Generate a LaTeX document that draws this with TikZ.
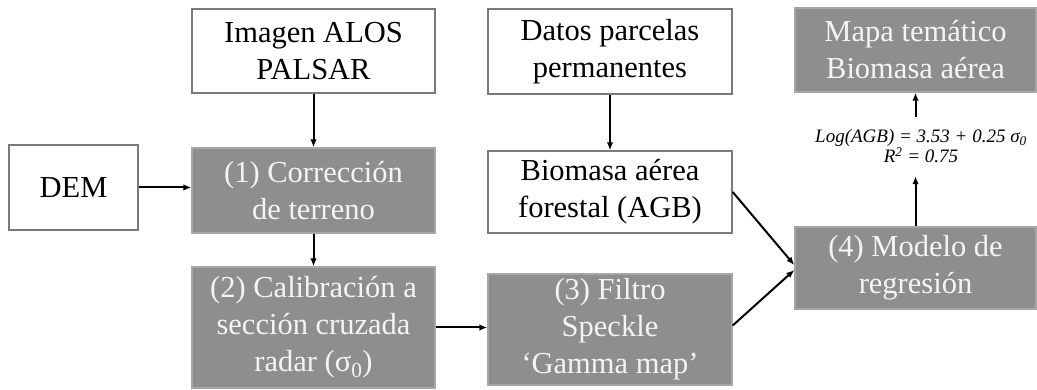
\documentclass[tikz,border=0pt]{standalone}
\usepackage{fontspec}
\setmainfont{Liberation Serif}
\usetikzlibrary{arrows.meta}
\definecolor{boxgrey}{HTML}{8E8E8E}
\definecolor{boxedge}{HTML}{7A7A7A}
\definecolor{greyedge}{HTML}{A6A6A6}
\definecolor{paletext}{HTML}{F4F4F4}
\tikzset{
  whitebox/.style={draw=boxedge, line width=1.4pt, fill=white, align=center, inner sep=0pt,
    font=\fontsize{30.5}{37}\selectfont, text=black},
  greybox/.style={draw=greyedge, line width=1.4pt, fill=boxgrey, align=center, inner sep=0pt,
    font=\fontsize{30.5}{37}\selectfont, text=paletext},
  conn/.style={draw=black, line width=2pt, -{Latex[length=8pt,width=6.5pt]}},
}
\begin{document}
\begin{tikzpicture}[x=1pt,y=-1pt]
\useasboundingbox (0,0) rectangle (1037,390);
% left column
\node[whitebox, minimum width=243pt, minimum height=84pt] (palsar) at (313.5,51) {Imagen ALOS\\PALSAR};
\node[whitebox, minimum width=129pt, minimum height=85pt] (dem) at (73.5,187.5) {DEM};
\node[greybox, minimum width=243pt, minimum height=85pt] (c1) at (313.5,190.5) {(1) Corrección\\de terreno};
\node[greybox, minimum width=243pt, minimum height=121pt] (c2) at (313.5,327.5) {(2) Calibración a\\sección cruzada\\radar (σ\textsubscript{0})};
% middle column
\node[whitebox, minimum width=244pt, minimum height=85pt] (datos) at (610,51.5) {Datos parcelas\\permanentes};
\node[whitebox, minimum width=244pt, minimum height=82pt] (bio) at (610,192) {Biomasa aérea\\forestal (AGB)};
\node[greybox, minimum width=244pt, minimum height=111pt] (filtro) at (610,329.5) {(3) Filtro\\Speckle\\‘Gamma map’};
% right column
\node[greybox, minimum width=241pt, minimum height=84pt] (mapa) at (915.5,50) {Mapa temático\\Biomasa aérea};
\node[greybox, minimum width=241pt, minimum height=82pt] (modelo) at (915.5,268) {(4) Modelo de\\regresión};
\node[align=center, inner xsep=0pt, inner ysep=0pt, minimum height=59pt, font=\fontsize{19}{20}\selectfont\itshape] (eq) at (921,146.5)
  {Log(AGB) = 3.53 + 0.25 σ\textsubscript{0}\\R\textsuperscript{2} = 0.75};
% connectors
\draw[conn] (palsar.south) -- (c1.north);
\draw[conn] (datos.south) -- (bio.north);
\draw[conn] (dem.east) -- (c1.west |- dem.east);
\draw[conn] (c1.south) -- (c2.north);
\draw[conn] (c2.east) -- (filtro.west |- c2.east);
\draw[conn] (bio.east) -- ([yshift=3pt]modelo.west);
\draw[conn] ([yshift=4pt]filtro.east) -- ([yshift=-2pt]modelo.west);
\draw[conn] (modelo.north) -- (modelo.north |- eq.south);
\draw[conn] (modelo.north |- eq.north) -- (mapa.south);
\end{tikzpicture}
\end{document}
